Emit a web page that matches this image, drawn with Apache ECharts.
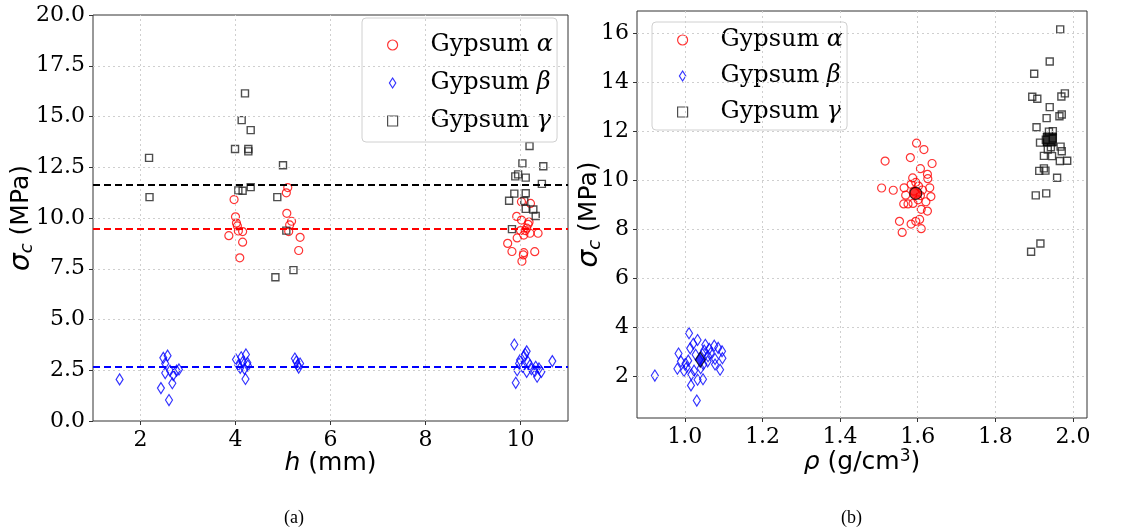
<!DOCTYPE html>
<html>
<head>
<meta charset="utf-8">
<script src="https://cdn.jsdelivr.net/npm/echarts@6/dist/echarts.min.js"></script>
<style>html,body{margin:0;padding:0;background:#fff}#c{width:1123px;height:530px}</style>
</head>
<body>
<div id="c"></div>
<script>
// ---------- data ----------
const names = ['Gypsum α', 'Gypsum β', 'Gypsum γ'];
// left plot: [h (mm), sigma_c (MPa)]
const leftAlpha = [[3.97,10.91],[4.0,10.06],[4.02,9.75],[4.04,9.61],[4.06,9.36],[4.15,9.33],[3.86,9.13],[4.15,8.81],[4.09,8.04],
  [5.10,11.5],[5.07,11.24],[5.08,10.23],[5.18,9.84],[5.14,9.66],[5.12,9.33],[5.36,9.05],[5.33,8.40],
  [10.02,10.8],[10.21,10.72],[9.92,10.08],[10.02,9.9],[10.16,9.69],[10.13,9.5],[10.2,9.25],[10.0,9.38],[10.07,9.16],[9.93,9.02],
  [10.37,9.25],[9.73,8.75],[9.82,8.35],[10.07,8.29],[10.3,8.34],[10.06,8.18],[10.03,7.87],[10.1,9.38],[10.18,9.8]];
const leftBeta = [[1.56,2.05],
  [2.48,3.11],[2.57,3.22],[2.52,2.83],[2.52,2.36],[2.62,2.48],[2.69,2.26],[2.81,2.54],[2.76,2.48],[2.67,1.86],[2.43,1.62],[2.6,1.03],
  [4.01,3.03],[4.12,3.14],[4.22,3.28],[4.06,2.75],[4.15,2.9],[4.25,2.87],[4.19,2.57],[4.21,2.07],[4.26,2.73],[4.1,2.62],
  [5.25,3.08],[5.28,2.93],[5.33,2.63],[5.36,2.83],[5.31,2.75],
  [9.87,3.77],[10.13,3.43],[10.1,3.3],[10.07,3.19],[9.99,3.0],[9.97,2.83],[10.16,2.91],[10.2,2.75],[10.13,2.42],[9.93,2.5],
  [9.9,1.88],[10.32,2.67],[10.3,2.45],[10.35,2.18],[10.44,2.42],[10.39,2.59],[10.67,2.95],[10.04,2.67],[10.23,2.55]];
const leftGamma = [[2.18,12.96],[2.19,11.03],
  [4.20,16.14],[4.13,14.82],[4.32,14.33],[3.99,13.40],[4.27,13.40],[4.27,13.28],[4.06,11.36],[4.15,11.34],[4.32,11.52],
  [5.0,12.6],[4.88,11.03],[5.07,9.38],[5.22,7.43],[4.84,7.08],
  [10.19,13.55],[10.04,12.69],[10.48,12.55],[9.89,12.05],[9.95,12.15],[10.11,11.99],[10.45,11.68],[9.87,11.2],[10.11,11.22],
  [9.76,10.85],[10.08,10.84],[10.11,10.45],[10.27,10.42],[10.32,10.1],[9.82,9.45]];
// right plot: [rho (g/cm3), sigma_c (MPa)]
const rightAlpha = [[1.597,11.51],[1.616,11.25],[1.516,10.78],[1.581,10.92],[1.637,10.68],[1.607,10.47],[1.625,10.24],[1.587,10.09],
  [1.626,10.06],[1.595,9.91],[1.583,9.83],[1.602,9.76],[1.507,9.68],[1.565,9.69],[1.631,9.69],[1.537,9.59],[1.569,9.39],[1.607,9.37],
  [1.634,9.33],[1.601,9.2],[1.564,9.03],[1.575,9.03],[1.588,9.05],[1.621,9.12],[1.609,8.81],[1.625,8.74],[1.553,8.32],[1.605,8.40],
  [1.595,8.32],[1.583,8.21],[1.560,7.87],[1.609,8.02],[1.59,9.55],[1.612,9.6]];
const rightBeta = [[0.923,2.03],[1.011,3.76],[1.033,3.48],[1.022,3.33],[1.053,3.29],[1.076,3.25],[1.063,3.12],[1.05,3.05],[1.096,3.02],
  [0.984,2.93],[1.009,2.64],[1.028,2.88],[1.078,2.71],[1.097,2.74],[0.981,2.31],[1.005,2.37],[1.017,2.07],[1.016,1.63],[1.033,1.86],
  [1.047,1.88],[1.091,2.27],[1.078,2.48],[1.059,2.61],[1.031,1.01],[1.086,3.16],[0.99,2.61],[1.024,2.23],[1.067,2.95],[1.014,3.14],
  [1.041,2.33],[1.048,2.49],[0.998,2.22],[1.046,2.9],[1.06,2.82],[1.002,2.52]];
const rightGamma = [[1.967,16.15],[1.94,14.84],[1.90,14.34],[1.895,13.40],[1.908,13.32],[1.979,13.54],[1.97,13.41],[1.94,12.98],
  [1.932,12.53],[1.971,12.68],[1.965,12.61],[1.906,12.16],[1.938,11.98],[1.948,12.0],[1.915,11.53],[1.943,11.34],[1.968,11.37],
  [1.971,11.18],[1.925,10.99],[1.946,10.98],[1.966,10.78],[1.985,10.79],[1.925,10.48],[1.929,10.39],[1.913,10.38],[1.959,10.10],
  [1.904,9.38],[1.931,9.46],[1.916,7.42],[1.892,7.08],[1.93,11.65],[1.948,11.7],[1.935,11.25]];
// group means: [rho, sigma]
const meanAlpha = [1.595, 9.46];
const meanBeta = [1.04, 2.68];
const meanGamma = [1.94, 11.66];
// ticks
const leftXTicks = [2, 4, 6, 8, 10];
const leftYTicks = [0, 2.5, 5, 7.5, 10, 12.5, 15, 17.5, 20];
const rightXTicks = [1.0, 1.2, 1.4, 1.6, 1.8, 2.0];
const rightYTicks = [2, 4, 6, 8, 10, 12, 14, 16];

// ---------- style ----------
const RED = '#ff0000', BLUE = '#0000ff', BLACK = '#000000';
const SERIF = 'DejaVu Serif', SANS = 'DejaVu Sans';
const tickFont = {fontFamily: SERIF, fontSize: 22, color: '#000'};
const gridLine = {color: '#cfcfcf', type: [2, 3], width: 1};
const diamondPath = 'path://M3.5,0 L7,5.5 L3.5,11 L0,5.5 Z';

function hollow(c, w) { return {color: 'rgba(0,0,0,0)', borderColor: c, borderWidth: w || 1.2}; }

function gridLinesSeries(xi, xs, ys) {
  return {
    type: 'scatter', xAxisIndex: xi, yAxisIndex: xi, data: [], silent: true, z: 1,
    markLine: {silent: true, symbol: 'none', label: {show: false}, lineStyle: gridLine, animation: false,
      data: xs.map(v => ({xAxis: v})).concat(ys.map(v => ({yAxis: v})))}
  };
}

const legendCommon = {
  orient: 'vertical', itemGap: 14, itemWidth: 10, itemHeight: 10,
  backgroundColor: 'rgba(255,255,255,0.85)', borderColor: '#d0d0d0', borderWidth: 1, borderRadius: 4,
  symbolKeepAspect: true,
  formatter: n => '{g|Gypsum }{i|' + n.split(' ')[1] + '}',
  textStyle: {padding: [0, 0, 0, 28], rich: {
    g: {fontFamily: SERIF, fontSize: 24, color: '#000'},
    i: {fontFamily: SERIF, fontSize: 24, fontStyle: 'italic', color: '#000'}}},
  data: [
    {name: names[0], icon: 'circle', itemStyle: hollow(RED)},
    {name: names[1], icon: diamondPath, itemStyle: hollow(BLUE)},
    {name: names[2], icon: 'rect', itemStyle: hollow('#222')}
  ]
};

const yName = {
  name: '{i|σ}{s|c} (MPa)', nameLocation: 'middle', nameRotate: 90, nameMoveOverlap: false,
  nameTextStyle: {fontFamily: SANS, fontSize: 25, color: '#000', rich: {
    i: {fontFamily: SANS, fontSize: 28, fontStyle: 'italic', color: '#000'},
    s: {fontFamily: SANS, fontSize: 18, fontStyle: 'italic', color: '#000', padding: [11, 0, 0, 0]}}}
};

const option = {
  animation: false,
  backgroundColor: '#fff',
  title: [
    {text: '(a)', left: 279, top: 504, textStyle: {fontFamily: 'Liberation Serif', fontSize: 18, fontWeight: 'normal', color: '#000'}},
    {text: '(b)', left: 836, top: 504, textStyle: {fontFamily: 'Liberation Serif', fontSize: 18, fontWeight: 'normal', color: '#000'}}
  ],
  grid: [
    {left: 93, top: 15, width: 475, height: 406, show: true, borderColor: '#333', borderWidth: 1, backgroundColor: 'transparent'},
    {left: 637, top: 11, width: 450, height: 407, show: true, borderColor: '#333', borderWidth: 1, backgroundColor: 'transparent'}
  ],
  legend: [
    Object.assign({}, legendCommon, {left: 362, top: 18, itemGap: 14, padding: [15, 4, 9, 25]}),
    Object.assign({}, legendCommon, {left: 652, top: 22, itemGap: 12, padding: [6, 4, 6, 25]})
  ],
  xAxis: [
    {gridIndex: 0, type: 'value', min: 1, max: 11,
      axisLine: {show: false}, splitLine: {show: false},
      axisTick: {show: true, customValues: leftXTicks, length: 4, lineStyle: {color: '#333'}},
      axisLabel: Object.assign({customValues: leftXTicks, margin: 8}, tickFont),
      name: '{i|h} (mm)', nameLocation: 'middle', nameGap: 30, nameMoveOverlap: false,
      nameTextStyle: {fontFamily: SANS, fontSize: 25, color: '#000', verticalAlign: 'top', rich: {
        i: {fontFamily: SANS, fontSize: 25, fontStyle: 'italic', color: '#000'}}}},
    {gridIndex: 1, type: 'value', min: 0.877, max: 2.036,
      axisLine: {show: false}, splitLine: {show: false},
      axisTick: {show: true, customValues: rightXTicks, length: 4, lineStyle: {color: '#333'}},
      axisLabel: Object.assign({customValues: rightXTicks, margin: 8, formatter: v => v.toFixed(1)}, tickFont),
      name: '{i|ρ} (g/cm{p|3})', nameLocation: 'middle', nameGap: 30, nameMoveOverlap: false,
      nameTextStyle: {fontFamily: SANS, fontSize: 25, color: '#000', verticalAlign: 'top', rich: {
        i: {fontFamily: SANS, fontSize: 25, fontStyle: 'italic', color: '#000'},
        p: {fontFamily: SANS, fontSize: 17, color: '#000', padding: [0, 0, 12, 0]}}}}
  ],
  yAxis: [
    Object.assign({gridIndex: 0, type: 'value', min: 0, max: 20,
      axisLine: {show: false}, splitLine: {show: false},
      axisTick: {show: true, customValues: leftYTicks, length: 4, lineStyle: {color: '#333'}},
      axisLabel: Object.assign({customValues: leftYTicks, margin: 8, formatter: v => v.toFixed(1)}, tickFont),
      nameGap: 57}, yName),
    Object.assign({gridIndex: 1, type: 'value', min: 0.3, max: 16.9,
      axisLine: {show: false}, splitLine: {show: false},
      axisTick: {show: true, customValues: rightYTicks, length: 4, lineStyle: {color: '#333'}},
      axisLabel: Object.assign({customValues: rightYTicks, margin: 8}, tickFont),
      nameGap: 33}, yName)
  ],
  series: [
    gridLinesSeries(0, leftXTicks, leftYTicks.slice(1, -1)),
    gridLinesSeries(1, rightXTicks, rightYTicks),
    // left plot
    {name: names[0], type: 'scatter', xAxisIndex: 0, yAxisIndex: 0, symbol: 'circle', symbolSize: 8, itemStyle: hollow(RED), data: leftAlpha, z: 3},
    {name: names[1], type: 'scatter', xAxisIndex: 0, yAxisIndex: 0, symbol: 'diamond', symbolSize: [7, 11], itemStyle: hollow(BLUE), data: leftBeta, z: 3},
    {name: names[2], type: 'scatter', xAxisIndex: 0, yAxisIndex: 0, symbol: 'rect', symbolSize: 7, itemStyle: hollow('#222', 1.4), data: leftGamma, z: 3},
    {type: 'scatter', xAxisIndex: 0, yAxisIndex: 0, data: [], silent: true, z: 4,
      markLine: {silent: true, symbol: 'none', label: {show: false}, animation: false,
        data: [
          {yAxis: meanAlpha[1], lineStyle: {color: RED, type: [7, 4], width: 2}},
          {yAxis: meanBeta[1], lineStyle: {color: BLUE, type: [7, 4], width: 2}},
          {yAxis: meanGamma[1], lineStyle: {color: BLACK, type: [7, 4], width: 2}}
        ]}},
    // right plot
    {name: names[0], type: 'scatter', xAxisIndex: 1, yAxisIndex: 1, symbol: 'circle', symbolSize: 8, itemStyle: hollow(RED), data: rightAlpha, z: 3},
    {name: names[1], type: 'scatter', xAxisIndex: 1, yAxisIndex: 1, symbol: 'diamond', symbolSize: [7, 11], itemStyle: hollow(BLUE), data: rightBeta, z: 3},
    {name: names[2], type: 'scatter', xAxisIndex: 1, yAxisIndex: 1, symbol: 'rect', symbolSize: 7, itemStyle: hollow('#222', 1.4), data: rightGamma, z: 3},
    {name: 'mean α', type: 'scatter', xAxisIndex: 1, yAxisIndex: 1, symbol: 'circle', symbolSize: 12,
      itemStyle: {color: RED, borderColor: BLACK, borderWidth: 1.2}, data: [meanAlpha], z: 5},
    {name: 'mean β', type: 'scatter', xAxisIndex: 1, yAxisIndex: 1, symbol: 'diamond', symbolSize: [10, 15],
      itemStyle: {color: BLUE, borderColor: BLACK, borderWidth: 1.2}, data: [meanBeta], z: 5},
    {name: 'mean γ', type: 'scatter', xAxisIndex: 1, yAxisIndex: 1, symbol: 'rect', symbolSize: 13,
      itemStyle: {color: BLACK, borderColor: BLACK, borderWidth: 1}, data: [meanGamma], z: 5}
  ]
};

const chart = echarts.init(document.getElementById('c'), null, {renderer: 'canvas'});
chart.setOption(option);
</script>
</body>
</html>
